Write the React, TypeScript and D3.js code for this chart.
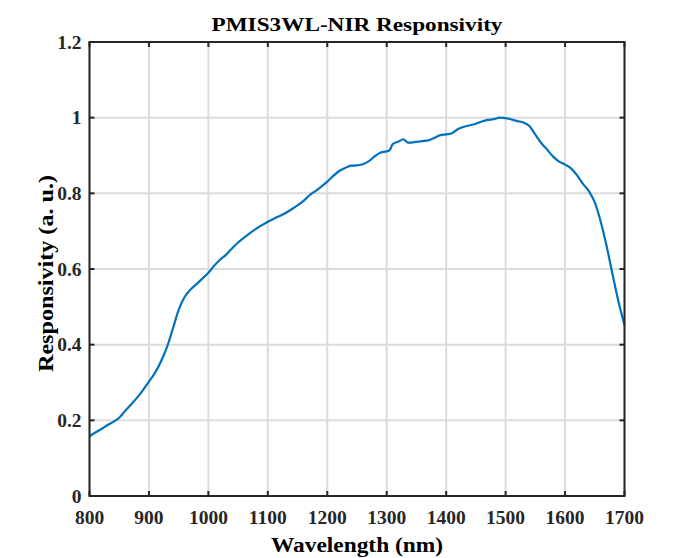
import React from "react";
import * as d3 from "d3";

const wavelengths = [
  800, 810, 820, 830, 840, 850, 860, 870, 880, 890, 900, 910, 920, 930, 940, 950, 960, 970, 980, 990,
  1000, 1010, 1020, 1030, 1040, 1050, 1060, 1070, 1080, 1090, 1100, 1110, 1120, 1130, 1140, 1150, 1160,
  1170, 1180, 1190, 1200, 1210, 1220, 1230, 1240, 1250, 1260, 1270, 1280, 1290, 1300, 1305, 1310, 1320,
  1328, 1336, 1350, 1360, 1370, 1380, 1390, 1400, 1410, 1420, 1430, 1440, 1450, 1460, 1470, 1480, 1490,
  1500, 1510, 1520, 1530, 1540, 1550, 1560, 1570, 1580, 1590, 1600, 1610, 1620, 1630, 1640, 1650, 1660,
  1670, 1680, 1690, 1700,
];
const responsivity = [
  0.158, 0.168, 0.177, 0.187, 0.196, 0.207, 0.225, 0.242, 0.26, 0.28, 0.302, 0.325, 0.355, 0.392, 0.441,
  0.492, 0.526, 0.546, 0.56, 0.575, 0.59, 0.609, 0.625, 0.638, 0.655, 0.67, 0.683, 0.695, 0.706, 0.716,
  0.725, 0.733, 0.74, 0.748, 0.758, 0.768, 0.78, 0.795, 0.806, 0.818, 0.831, 0.846, 0.859, 0.867, 0.873,
  0.874, 0.877, 0.885, 0.898, 0.908, 0.911, 0.914, 0.93, 0.937, 0.943, 0.934, 0.936, 0.938, 0.94, 0.946,
  0.954, 0.956, 0.959, 0.97, 0.976, 0.98, 0.984, 0.99, 0.994, 0.996, 1.0, 0.999, 0.995, 0.991, 0.987,
  0.978, 0.955, 0.933, 0.915, 0.897, 0.884, 0.876, 0.866, 0.848, 0.825, 0.806, 0.776, 0.725, 0.66, 0.585,
  0.513, 0.452,
];
const xTicks = [800, 900, 1000, 1100, 1200, 1300, 1400, 1500, 1600, 1700];
const yTicks = [0, 0.2, 0.4, 0.6, 0.8, 1, 1.2];
const title = "PMIS3WL-NIR Responsivity";
const xLabel = "Wavelength (nm)";
const yLabel = "Responsivity (a. u.)";

const W = 691;
const H = 558;
const L = 89.5;
const R = 624.5;
const T = 42;
const B = 496;
const FONT = "'Liberation Serif', 'Times New Roman', serif";
const AX = "#262626";

export default function App() {
  const x = d3.scaleLinear().domain([800, 1700]).range([L, R]);
  const y = d3.scaleLinear().domain([0, 1.2]).range([B, T]);
  const pts = wavelengths.map((w, i) => [w, responsivity[i]] as [number, number]);
  const line = d3
    .line<[number, number]>()
    .x((d) => x(d[0]))
    .y((d) => y(d[1]))
    .curve(d3.curveMonotoneX);
  const tl = 5;
  const fmtY = (v: number) => (v === 0 ? "0" : v === 1 ? "1" : String(v));
  return (
    <svg
      width={W}
      height={H}
      style={{ position: "absolute", left: 0, top: 0, background: "#fff" }}
      fontFamily={FONT}
    >
      <rect x={0} y={0} width={W} height={H} fill="#fff" />
      {xTicks.map((t) => (
        <line key={"gx" + t} x1={x(t)} x2={x(t)} y1={T} y2={B} stroke="#dcdcdc" strokeWidth={2} />
      ))}
      {yTicks.map((t) => (
        <line key={"gy" + t} x1={L} x2={R} y1={y(t)} y2={y(t)} stroke="#dcdcdc" strokeWidth={2} />
      ))}
      <path d={line(pts) || ""} fill="none" stroke="#0072BD" strokeWidth={2.2} strokeLinejoin="round" />
      {xTicks.map((t) => (
        <g key={"tx" + t}>
          <line x1={x(t)} x2={x(t)} y1={B} y2={B - tl} stroke={AX} strokeWidth={2} />
          <line x1={x(t)} x2={x(t)} y1={T} y2={T + tl} stroke={AX} strokeWidth={2} />
          <text
            x={x(t)}
            y={524}
            textAnchor="middle"
            fontSize={19.5}
            fontWeight="bold"
            fill={AX}
          >
            {t}
          </text>
        </g>
      ))}
      {yTicks.map((t) => (
        <g key={"ty" + t}>
          <line x1={L} x2={L + tl} y1={y(t)} y2={y(t)} stroke={AX} strokeWidth={2} />
          <line x1={R} x2={R - tl} y1={y(t)} y2={y(t)} stroke={AX} strokeWidth={2} />
          <text
            x={81.5}
            y={y(t) + 6.5}
            textAnchor="end"
            fontSize={19.5}
            fontWeight="bold"
            fill={AX}
          >
            {fmtY(t)}
          </text>
        </g>
      ))}
      <rect x={L} y={T} width={R - L} height={B - T} fill="none" stroke={AX} strokeWidth={2} />
      <text
        x={(L + R) / 2}
        y={30.5}
        textAnchor="middle"
        fontSize={19}
        fontWeight="bold"
        fill="#000"
        textLength={291}
        lengthAdjust="spacingAndGlyphs"
      >
        {title}
      </text>
      <text
        x={(L + R) / 2}
        y={551.5}
        textAnchor="middle"
        fontSize={20}
        fontWeight="bold"
        fill="#000"
        textLength={172}
        lengthAdjust="spacingAndGlyphs"
      >
        {xLabel}
      </text>
      <text
        transform={`translate(52.5, 273.5) rotate(-90)`}
        textAnchor="middle"
        fontSize={20}
        fontWeight="bold"
        fill="#000"
        textLength={197}
        lengthAdjust="spacingAndGlyphs"
      >
        {yLabel}
      </text>
    </svg>
  );
}
